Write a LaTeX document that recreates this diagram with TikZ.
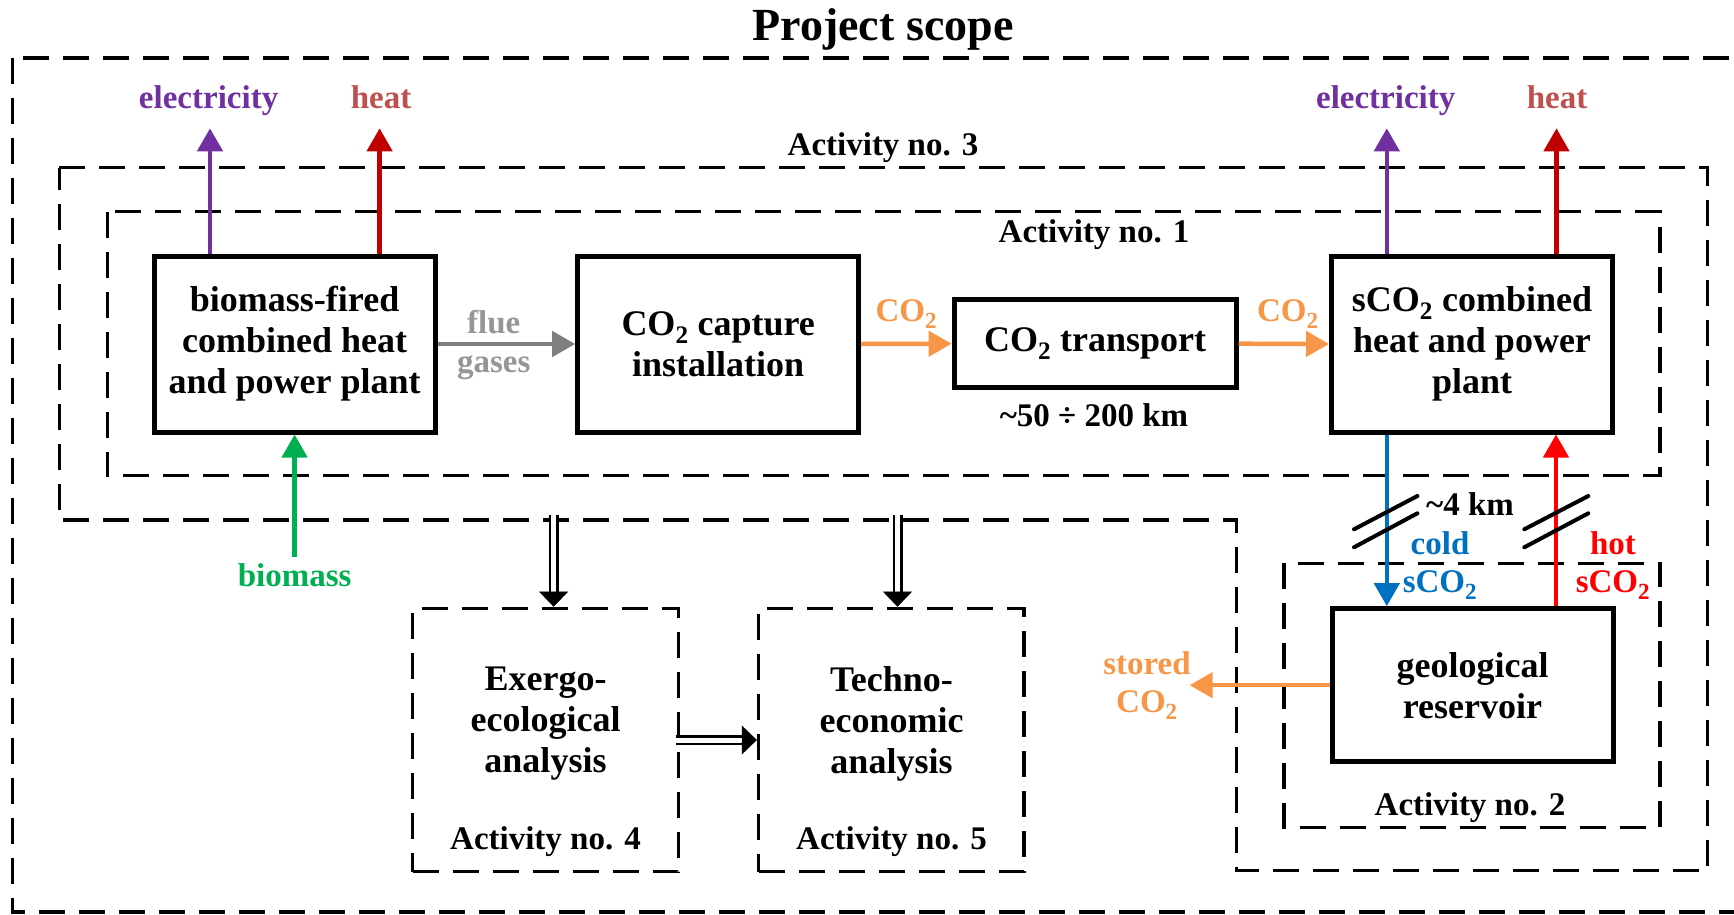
\documentclass[tikz,border=0pt]{standalone}
\usepackage{fontspec}
\setmainfont{Liberation Serif}
\usetikzlibrary{arrows.meta,calc}
\definecolor{cpurple}{HTML}{7030A0}
\definecolor{cheatlbl}{HTML}{C0504D}
\definecolor{cheat}{HTML}{C00000}
\definecolor{cgreen}{HTML}{00B050}
\definecolor{cgray}{HTML}{7F7F7F}
\definecolor{cgraylbl}{HTML}{969696}
\definecolor{corange}{HTML}{F79646}
\definecolor{cblue}{HTML}{0070C0}
\definecolor{chot}{HTML}{FF0000}
\begin{document}
\begin{tikzpicture}[x=1pt,y=-1pt,
  box/.style={draw, line width=5pt, minimum width=281pt, minimum height=176pt, align=center,
    font=\fontsize{36}{41}\selectfont\bfseries, inner sep=0pt},
  btxt/.style={align=center, font=\fontsize{36}{41}\selectfont\bfseries, inner sep=0pt},
  zone/.style={draw, line width=3.3pt, dash pattern=on 26pt off 14pt},
  lbl/.style={font=\fontsize{33}{38.4}\selectfont\bfseries, inner sep=0pt, align=center},
  flow/.style={line width=4.5pt, -{Triangle[length=23pt,width=25pt]}},
  dbl/.style={double, double distance=5pt, line width=2.5pt},
  dtip/.style={-{Triangle[length=15pt,width=29pt]}, line width=0.5pt},
  brk/.style={line width=4pt, line cap=round},
]
\useasboundingbox (0,0) rectangle (1734,915);

% title and zones
\node[font=\fontsize{46}{50}\selectfont\bfseries, anchor=base, inner sep=0pt] (title) at (883,41) {Project scope};
\draw[zone] (12.6,58) rectangle (1737,912);
\draw[zone] (59.3,167.7) -- (1707.5,167.7) -- (1707.5,870.7) -- (1236.4,870.7) -- (1236.4,520) -- (59.3,520) -- cycle;
\node[lbl, anchor=base] (a3) at (883,155) {Activity no. 3};
\draw[zone] (107.2,211.7) rectangle (1660,475.7);
\node[lbl, anchor=base] (a1) at (1094,242) {Activity no. 1};
\draw[zone] (1284,563.3) rectangle (1660,827.3);
\node[lbl, anchor=base] (a2) at (1470,815) {Activity no. 2};

\node[zone, minimum width=266pt, minimum height=263.4pt, inner sep=0pt] (act4) at (545.5,740) {};
\node[zone, minimum width=265.5pt, minimum height=263.4pt, inner sep=0pt] (act5) at (891.25,740) {};
\node[btxt] (t4) at (545.5,724) {Exergo-\\ecological\\analysis};
\node[btxt] (t5) at (891.5,724) {Techno-\\economic\\analysis};
\node[lbl, anchor=base] (a4) at (545.5,849.3) {Activity no. 4};
\node[lbl, anchor=base] (a5) at (891.5,849.3) {Activity no. 5};

% process boxes
\node[box] (bio) at (294.6,344) {biomass-fired\\combined heat\\and power plant};
\node[box] (cap) at (718.2,344) {CO\textsubscript{2} capture\\installation};
\node[box, minimum width=282pt, minimum height=87.7pt] (trans) at (1095.1,343.7) {CO\textsubscript{2} transport};
\node[box] (sco2) at (1472,344) {sCO\textsubscript{2} combined\\heat and power\\plant};
\node[box, minimum height=153pt] (res) at (1472.5,685.2) {geological\\reservoir};

% labels
\node[lbl, text=cpurple, anchor=base] (el1) at (208.6,108.3) {electricity};
\node[lbl, text=cheatlbl, anchor=base] (ht1) at (381,108.3) {heat};
\node[lbl, text=cpurple, anchor=base] (el2) at (1385.7,108.3) {electricity};
\node[lbl, text=cheatlbl, anchor=base] (ht2) at (1557,108.3) {heat};
\node[lbl, text=cgraylbl] (flue) at (493.7,345) {flue\\gases};
\node[lbl, text=corange, anchor=base] (co2a) at (906.4,321.7) {CO\textsubscript{2}};
\node[lbl, text=corange, anchor=base] (co2b) at (1287.8,321.7) {CO\textsubscript{2}};
\node[lbl, anchor=base] (dist) at (1094,426.7) {\textasciitilde50 ÷ 200 km};
\node[lbl, text=cgreen, anchor=base] (bml) at (294.7,586.7) {biomass};
\node[lbl, anchor=base] (d4) at (1470,515) {\textasciitilde4 km};
\node[lbl, text=cblue] (coldl) at (1440,565.5) {cold\\sCO\textsubscript{2}};
\node[lbl, text=chot] (hotl) at (1613,565.5) {hot\\sCO\textsubscript{2}};
\node[lbl, text=corange] (stl) at (1147,685.5) {stored\\CO\textsubscript{2}};

% coordinates for free ends
\coordinate (e1) at (210,128.3);
\coordinate (h1) at (379.6,128.3);
\coordinate (e2) at (1386.8,128.3);
\coordinate (h2) at (1556.5,128.3);
\coordinate (bm) at (294.6,556.7);
\coordinate (coldx) at (1386.8,500);
\coordinate (hotx) at (1556,500);
\coordinate (st) at (1189.6,685.2);
\coordinate (s4) at (553.6,515);
\coordinate (s5) at (897.5,515);

% flows
\draw[flow, cpurple] (e1 |- bio.north) -- (e1);
\draw[flow, cheat] (h1 |- bio.north) -- (h1);
\draw[flow, cpurple] (e2 |- sco2.north) -- (e2);
\draw[flow, cheat] (h2 |- sco2.north) -- (h2);
\draw[flow, cgreen] (bm) -- (bio.south);
\draw[flow, cgray] (bio.east) -- (cap.west);
\draw[flow, corange] (cap.east) -- (trans.west);
\draw[flow, corange] (trans.east) -- (sco2.west);
\draw[flow, cblue] (coldx |- sco2.south) -- (coldx |- res.north);
\draw[flow, chot] (hotx |- res.north) -- (hotx |- sco2.south);
\draw[flow, corange] (res.west) -- (st);

% pipe break marks
\draw[brk] (1354,529.3) -- (1417.4,496);
\draw[brk] (1354,547.3) -- (1417.4,513.3);
\draw[brk] (1524.3,529.3) -- (1588.3,496);
\draw[brk] (1524.3,547.3) -- (1588.3,513.3);

% double arrows
\draw[dbl, shorten >=14pt] (s4) -- (s4 |- act4.north);
\draw[dtip] ($(s4 |- act4.north)+(0,-15)$) -- (s4 |- act4.north);
\draw[dbl, shorten >=14pt] (s5) -- (s5 |- act5.north);
\draw[dtip] ($(s5 |- act5.north)+(0,-15)$) -- (s5 |- act5.north);
\draw[dbl, shorten <=-4.5pt, shorten >=14pt] (act4.east) -- (act5.west);
\draw[dtip] ($(act5.west)+(-15,0)$) -- (act5.west);
\end{tikzpicture}
\end{document}
